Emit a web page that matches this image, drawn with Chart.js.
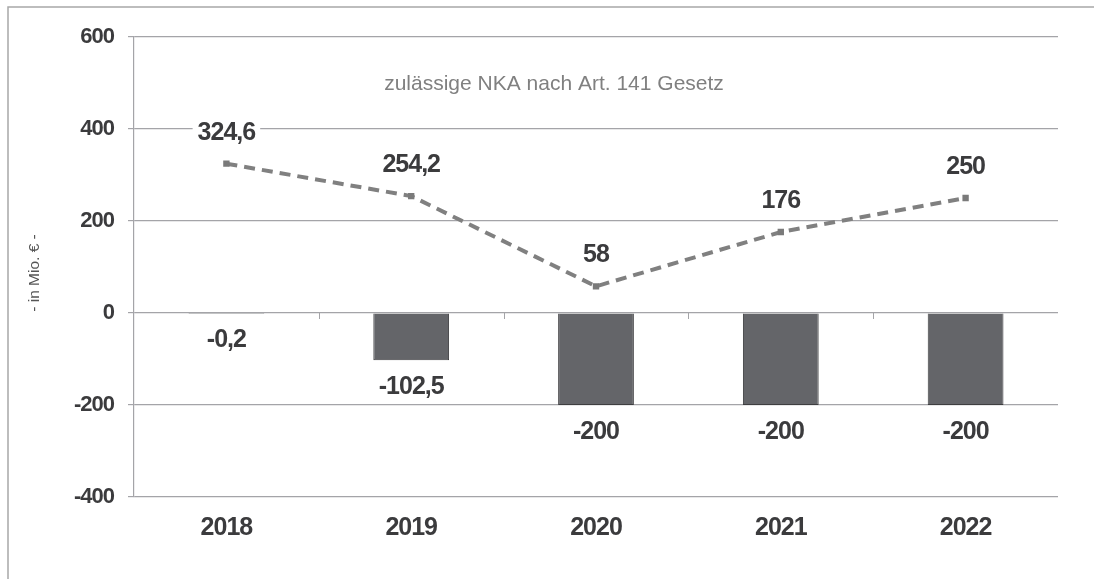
<!DOCTYPE html>
<html>
<head>
<meta charset="utf-8">
<script src="https://cdn.jsdelivr.net/npm/chart.js@4/dist/chart.umd.min.js"></script>
<style>
  html, body { margin: 0; padding: 0; background: #fff; overflow: hidden; }
  #wrap { width: 1094px; height: 579px; }
</style>
</head>
<body>
<div id="wrap"><canvas id="chart" width="1094" height="579"></canvas></div>
<script>
// Daten aus der Grafik
const years = ['2018', '2019', '2020', '2021', '2022'];
const deficit = [-0.2, -102.5, -200, -200, -200];
const allowed = [324.6, 254.2, 58, 176, 250];
const yMin = -400;
const yMax = 600;
const yStep = 200;
const noteText = 'zulässige NKA nach Art. 141 Gesetz';
const yTitle = '- in Mio. € -';

const textDark = '#3b3b3d';
const gridGrey = '#a4a4a8';

function fmt(v) {
  return String(v).replace('.', ',');
}

const labelPlugin = {
  id: 'labels',
  beforeDraw(chart) {
    const ctx = chart.ctx;
    ctx.save();
    ctx.fillStyle = '#fff';
    ctx.fillRect(0, 0, chart.width, chart.height);
    // Rahmen (rechts und unten abgeschnitten)
    ctx.strokeStyle = '#a8a8a8';
    ctx.lineWidth = 1.5;
    ctx.beginPath();
    ctx.moveTo(8, chart.height);
    ctx.lineTo(8, 7);
    ctx.lineTo(chart.width, 7);
    ctx.stroke();
    ctx.restore();
    ctx.letterSpacing = '-1px';
  },
  afterDatasetsDraw(chart) {
    const ctx = chart.ctx;
    ctx.save();
    ctx.letterSpacing = '-1px';
    ctx.font = 'bold 25px Arial, "Liberation Sans", sans-serif';
    ctx.textAlign = 'center';
    ctx.textBaseline = 'middle';
    // Linienwerte
    const lineMeta = chart.getDatasetMeta(1);
    lineMeta.data.forEach((pt, i) => {
      const txt = fmt(allowed[i]);
      const w = ctx.measureText(txt).width + 10;
      const y = pt.y - 31;
      ctx.fillStyle = '#fff';
      ctx.fillRect(pt.x - w / 2, y - 12, w, 24);
      ctx.fillStyle = textDark;
      ctx.fillText(txt, pt.x, y);
    });
    // Balkenwerte
    const barMeta = chart.getDatasetMeta(0);
    barMeta.data.forEach((bar, i) => {
      const txt = fmt(deficit[i]);
      const bottom = Math.max(bar.y, bar.base);
      ctx.fillStyle = textDark;
      ctx.fillText(txt, bar.x, bottom + 27);
    });
    ctx.restore();
  },
  afterDraw(chart) {
    const ctx = chart.ctx;
    const area = chart.chartArea;
    const yScale = chart.scales.y;
    const xScale = chart.scales.x;
    ctx.save();
    // kleine Striche an der Nulllinie
    const y0 = yScale.getPixelForValue(0);
    const half = (xScale.getPixelForValue(1) - xScale.getPixelForValue(0)) / 2;
    ctx.strokeStyle = gridGrey;
    ctx.lineWidth = 1;
    for (let i = 0; i < years.length - 1; i++) {
      const x = Math.round(xScale.getPixelForValue(i) + half) + 0.5;
      ctx.beginPath();
      ctx.moveTo(x, y0);
      ctx.lineTo(x, y0 + 6);
      ctx.stroke();
    }
    // Hinweis
    ctx.letterSpacing = '0px';
    ctx.font = '21px Arial, "Liberation Sans", sans-serif';
    ctx.fillStyle = '#808080';
    ctx.textAlign = 'center';
    ctx.textBaseline = 'middle';
    ctx.fillText(noteText, 554, 84);
    // Achsentitel
    ctx.translate(35, 273);
    ctx.rotate(-Math.PI / 2);
    ctx.font = '15.5px Arial, "Liberation Sans", sans-serif';
    ctx.fillStyle = '#555';
    ctx.fillText(yTitle, 0, 0);
    ctx.restore();
  }
};

new Chart(document.getElementById('chart'), {
  data: {
    labels: years,
    datasets: [{
      type: 'bar',
      data: deficit,
      backgroundColor: '#646569',
      borderColor: '#3e3e40',
      borderWidth: 1,
      barPercentage: 0.82,
      categoryPercentage: 0.5,
      order: 2
    }, {
      type: 'line',
      data: allowed,
      borderColor: '#808080',
      borderWidth: 4,
      borderDash: [11, 7],
      tension: 0,
      pointStyle: 'rect',
      pointRadius: 4.5,
      pointBackgroundColor: '#7a7a7a',
      pointBorderWidth: 0,
      order: 1
    }]
  },
  options: {
    responsive: false,
    animation: false,
    layout: { padding: { left: 0, top: 37, right: 36, bottom: 0 } },
    plugins: {
      legend: { display: false },
      tooltip: { enabled: false }
    },
    scales: {
      x: {
        grid: { display: false, drawTicks: false },
        border: { display: false },
        ticks: {
          color: textDark,
          padding: 16,
          font: { family: 'Arial, "Liberation Sans", sans-serif', size: 25, weight: 'bold' }
        },
        afterFit(scale) { scale.height = 82; }
      },
      y: {
        min: yMin,
        max: yMax,
        ticks: {
          stepSize: yStep,
          color: textDark,
          padding: 14,
          font: { family: 'Arial, "Liberation Sans", sans-serif', size: 22, weight: 'bold' }
        },
        grid: { color: gridGrey, lineWidth: 1.2, tickLength: 6 },
        border: { color: gridGrey, width: 1.2 },
        afterFit(scale) { scale.width = 134; }
      }
    }
  },
  plugins: [labelPlugin]
});
</script>
</body>
</html>
